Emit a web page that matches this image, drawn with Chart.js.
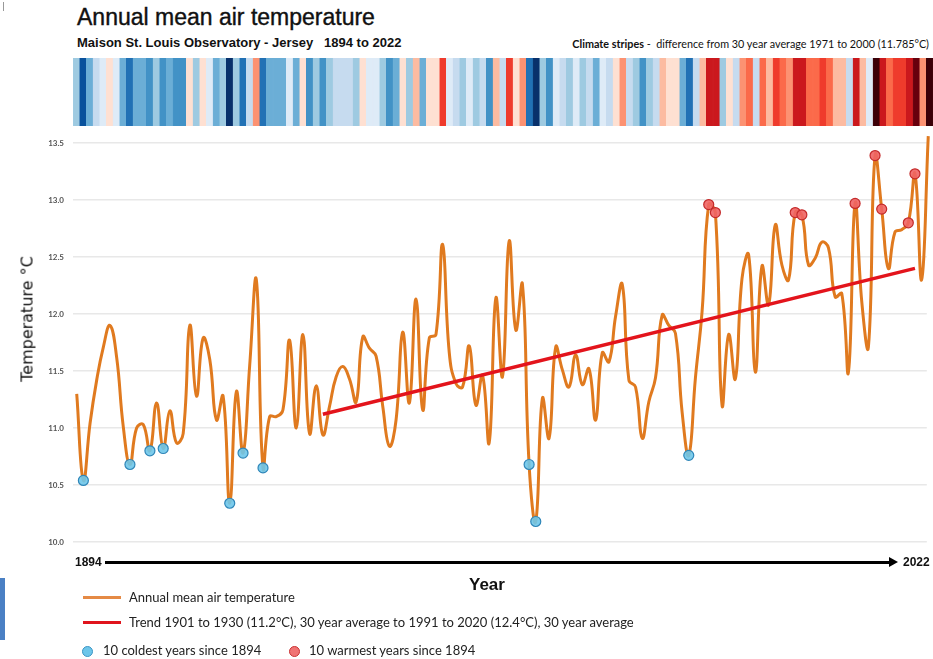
<!DOCTYPE html>
<html>
<head>
<meta charset="utf-8">
<script src="https://cdn.jsdelivr.net/npm/chart.js@4.4.0/dist/chart.umd.min.js"></script>
<style>
  body { margin: 0; width: 933px; height: 659px; background: #fff; position: relative; overflow: hidden; font-family: "Liberation Sans", Arial, sans-serif; }
  .abs { position: absolute; white-space: nowrap; }
  #title { left: 77px; top: 4px; font-size: 23px; color: #111; -webkit-text-stroke: 0.4px #111; }
  #sub { left: 77px; top: 35px; font-size: 13px; font-weight: bold; color: #111; }
  #stripesNote { right: 4px; top: 37px; font-family: Lato, sans-serif; font-size: 10.8px; color: #111; }
  #stripesWrap { left: 73px; top: 58px; width: 860px; height: 68px; }
  #mainWrap { left: 0; top: 0; width: 933px; height: 659px; }
  #ylab { left: 27px; top: 319px; transform: translate(-50%, -50%) rotate(-90deg); font-family: "DejaVu Sans", sans-serif; font-size: 16px; color: #111; }
  .yr { font-size: 12px; font-weight: bold; color: #111; top: 555px; }
  #arrow { left: 105px; top: 561px; width: 786px; height: 3px; background: #000; }
  #arrowHead { left: 889px; top: 557px; width: 0; height: 0; border-top: 5.5px solid transparent; border-bottom: 5.5px solid transparent; border-left: 9px solid #000; }
  #xlab { left: 469px; top: 575px; font-size: 17px; font-weight: bold; color: #111; }
  .lg { font-family: Lato, sans-serif; font-size: 13px; color: #222; }
  .lgLine { height: 3px; }
  .dot { width: 9px; height: 9px; border-radius: 50%; }
</style>
</head>
<body>
<div class="abs" style="left:3px;top:2px;width:1px;height:9px;background:#999"></div>
<div class="abs" id="title">Annual mean air temperature</div>
<div class="abs" id="sub">Maison St. Louis Observatory - Jersey &nbsp; 1894 to 2022</div>
<div class="abs" id="stripesNote"><b>Climate stripes</b> - &nbsp;difference from 30 year average 1971 to 2000 (11.785°C)</div>
<div class="abs" id="stripesWrap"><canvas id="stripes"></canvas></div>
<div class="abs" id="mainWrap"><canvas id="main"></canvas></div>
<div class="abs" id="ylab">Temperature °C</div>
<div class="abs yr" style="left:75px">1894</div>
<div class="abs yr" style="left:903px">2022</div>
<div class="abs" id="arrow"></div>
<div class="abs" id="arrowHead"></div>
<div class="abs" id="xlab">Year</div>

<div class="abs lgLine" style="left:83px;top:596px;width:38px;background:#e58a45"></div>
<div class="abs lg" style="left:129px;top:589px">Annual mean air temperature</div>
<div class="abs lgLine" style="left:83px;top:621px;width:38px;background:#e0141c"></div>
<div class="abs lg" style="left:129px;top:614px">Trend 1901 to 1930 (11.2°C), 30 year average to 1991 to 2020 (12.4°C), 30 year average</div>
<div class="abs dot" style="left:82px;top:646px;background:#6ec6ea;border:1px solid #3b95c4"></div>
<div class="abs lg" style="left:103px;top:642px">10 coldest years since 1894</div>
<div class="abs dot" style="left:289px;top:646px;background:#f07373;border:1px solid #c83232"></div>
<div class="abs lg" style="left:309px;top:642px">10 warmest years since 1894</div>
<div class="abs" style="left:0;top:578px;width:5px;height:62px;background:#4a80c4"></div>

<script>
const startYear = 1894;
const temps = [
  11.30, 10.54, 11.04, 11.42, 11.71, 11.90, 11.62, 11.01, 10.68, 11.00,
  11.03, 10.80, 11.22, 10.82, 11.15, 10.87, 10.95, 11.90, 11.28, 11.79,
  11.60, 11.07, 11.28, 10.34, 11.32, 10.78, 11.55, 12.30, 10.65, 11.10,
  11.10, 11.16, 11.77, 11.00, 11.82, 10.95, 11.37, 10.94, 11.19, 11.45,
  11.54, 11.43, 11.23, 11.80, 11.70, 11.63, 11.19, 10.84, 11.07, 11.84,
  11.22, 12.13, 11.16, 11.79, 11.82, 12.61, 11.66, 11.39, 11.36, 11.72,
  11.20, 11.46, 10.87, 12.14, 11.45, 12.64, 11.86, 12.26, 10.68, 10.18,
  11.26, 10.91, 11.71, 11.51, 11.36, 11.64, 11.38, 11.52, 11.07, 11.66,
  11.58, 11.98, 12.26, 11.42, 11.36, 10.91, 11.23, 11.44, 11.99, 11.90,
  11.83, 11.14, 10.76, 11.44, 12.02, 12.96, 12.89, 11.20, 11.82, 11.43,
  12.31, 12.52, 11.49, 12.42, 12.08, 12.78, 12.43, 12.30, 12.89, 12.87,
  12.43, 12.49, 12.63, 12.58, 12.15, 12.18, 11.49, 12.97, 12.11, 11.71,
  13.39, 12.92, 12.40, 12.72, 12.74, 12.80, 13.23, 12.30, 13.56
];
const years = temps.map((t, i) => startYear + i);
const coldYears = [1895, 1902, 1905, 1907, 1917, 1919, 1922, 1962, 1963, 1986];
const warmYears = [1989, 1990, 2002, 2003, 2011, 2014, 2015, 2019, 2020, 2022];
const trendYears = [1931, 2020];
const trendValues = [11.12, 12.40];
const yTicks = [10.0, 10.5, 11.0, 11.5, 12.0, 12.5, 13.0, 13.5];
const baseline = 11.785;

const blues = ['#deebf7', '#c6dbef', '#9ecae1', '#6baed6', '#4292c6', '#2171b5', '#08519c', '#08306b'];
const reds = ['#fee0d2', '#fcbba1', '#fc9272', '#fb6a4a', '#ef3b2c', '#cb181d', '#a50f15', '#67000d', '#3b0008'];

function stripeColor(t) {
  const a = t - baseline;
  if (a < 0) return blues[Math.min(blues.length, Math.ceil(-a / 0.2)) - 1];
  return reds[Math.max(1, Math.min(reds.length, Math.ceil(a / 0.2))) - 1];
}

function tempOf(y) { return temps[y - startYear]; }

// stripes
const stripeCols = temps.map(stripeColor);
new Chart(document.getElementById('stripes'), {
  type: 'bar',
  data: {
    labels: years,
    datasets: [{
      data: temps.map(() => 1),
      backgroundColor: stripeCols,
      borderColor: stripeCols,
      borderWidth: 0.6,
      barPercentage: 1,
      categoryPercentage: 1
    }]
  },
  options: {
    responsive: true,
    maintainAspectRatio: false,
    animation: false,
    layout: { padding: 0 },
    plugins: { legend: { display: false }, tooltip: { enabled: false } },
    scales: {
      x: { display: false },
      y: { display: false, min: 0, max: 1 }
    }
  }
});

// main chart
new Chart(document.getElementById('main'), {
  type: 'line',
  data: {
    datasets: [
      {
        label: 'cold',
        data: coldYears.map(y => ({ x: y, y: tempOf(y) })),
        showLine: false,
        pointRadius: 5,
        pointBackgroundColor: 'rgba(110,198,234,0.9)',
        pointBorderColor: '#2f86b8',
        pointBorderWidth: 1.2,
        clip: 10
      },
      {
        label: 'warm',
        data: warmYears.map(y => ({ x: y, y: tempOf(y) })),
        showLine: false,
        pointRadius: 5,
        pointBackgroundColor: 'rgba(240,100,100,0.9)',
        pointBorderColor: '#c42a2a',
        pointBorderWidth: 1.2,
        clip: 10
      },
      {
        label: 'trend',
        data: trendYears.map((y, i) => ({ x: y, y: trendValues[i] })),
        borderColor: '#e3141c',
        borderWidth: 3.5,
        pointRadius: 0,
        tension: 0
      },
      {
        label: 'Annual mean air temperature',
        data: years.map((y, i) => ({ x: y, y: temps[i] })),
        borderColor: '#e07a1f',
        borderWidth: 3,
        pointRadius: 0,
        tension: 0.45,
        clip: 10
      }
    ]
  },
  options: {
    responsive: true,
    maintainAspectRatio: false,
    animation: false,
    layout: { padding: { top: 143, bottom: 117, left: 0, right: 0 } },
    plugins: { legend: { display: false }, tooltip: { enabled: false } },
    scales: {
      x: { type: 'linear', display: false, min: 1893.44, max: 2021.78 },
      y: {
        min: 10, max: 13.5,
        afterFit: s => { s.width = 73; },
        afterBuildTicks: s => { s.ticks = yTicks.map(v => ({ value: v })); },
        border: { display: false },
        grid: { color: '#e8e8e8', lineWidth: 1.5, drawTicks: false },
        ticks: {
          padding: 9,
          color: '#555',
          font: { family: 'Lato', size: 8, weight: 'bold' },
          callback: v => v.toFixed(1)
        }
      }
    }
  }
});
</script>
</body>
</html>
